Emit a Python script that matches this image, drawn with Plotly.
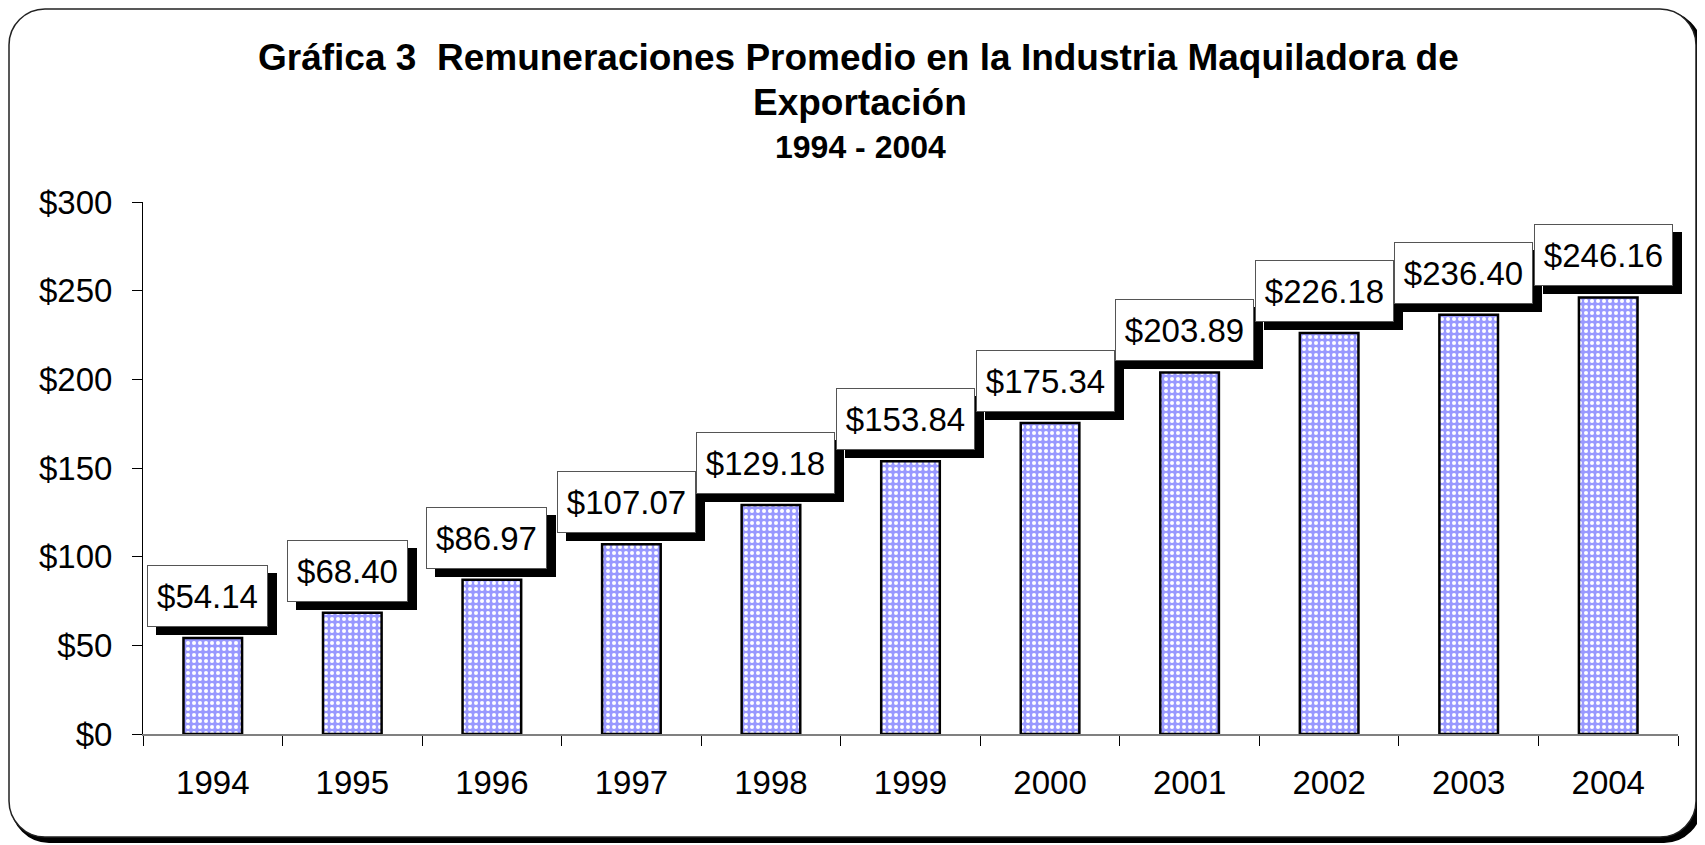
import plotly.graph_objects as go

years = ["1994", "1995", "1996", "1997", "1998", "1999", "2000", "2001", "2002", "2003", "2004"]
values = [54.14, 68.40, 86.97, 107.07, 129.18, 153.84, 175.34, 203.89, 226.18, 236.40, 246.16]
labels = ["$54.14", "$68.40", "$86.97", "$107.07", "$129.18", "$153.84", "$175.34",
          "$203.89", "$226.18", "$236.40", "$246.16"]
ytick_vals = [0, 50, 100, 150, 200, 250, 300]
ytick_text = ["$0", "$50", "$100", "$150", "$200", "$250", "$300"]
title_line1 = "Gráfica 3\u00a0\u00a0Remuneraciones Promedio en la Industria Maquiladora de"
title_line2 = "Exportación"
title_line3 = "1994 - 2004"

W, H = 1705, 845
OFF = 8  # page body margin offset
# target plot area on screen: x 143..1678, y 202..734
SX0, SX1, SY0, SY1 = 143, 1678, 202, 734
L, T = SX0 - OFF, SY0 - OFF
R, B = W - (SX1 - OFF), H - (SY1 - OFF)
PW, PH = SX1 - SX0, SY1 - SY0
FONT = "Liberation Sans, Arial, sans-serif"
LABEL_SIZE = 33


def fx(sx):
    return (sx - SX0) / PW


def fy(sy):
    return (SY1 - sy) / PH


def text_width(s, size):
    # Arial / Liberation Sans advance widths
    w = 0.0
    for ch in s:
        w += 0.278 if ch == "." else 0.556
    return round(w * size) + 2


def rounded_path(x0, y0, x1, y1, r):
    k = 0.55 * r
    pts = [
        f"M {fx(x0 + r)} {fy(y0)}",
        f"L {fx(x1 - r)} {fy(y0)}",
        f"C {fx(x1 - r + k)} {fy(y0)} {fx(x1)} {fy(y0 + r - k)} {fx(x1)} {fy(y0 + r)}",
        f"L {fx(x1)} {fy(y1 - r)}",
        f"C {fx(x1)} {fy(y1 - r + k)} {fx(x1 - r + k)} {fy(y1)} {fx(x1 - r)} {fy(y1)}",
        f"L {fx(x0 + r)} {fy(y1)}",
        f"C {fx(x0 + r - k)} {fy(y1)} {fx(x0)} {fy(y1 - r + k)} {fx(x0)} {fy(y1 - r)}",
        f"L {fx(x0)} {fy(y0 + r)}",
        f"C {fx(x0)} {fy(y0 + r - k)} {fx(x0 + r - k)} {fy(y0)} {fx(x0 + r)} {fy(y0)}",
        "Z",
    ]
    return " ".join(pts)


fig = go.Figure()
fig.add_trace(go.Bar(
    x=years, y=values,
    width=0.42,
    marker=dict(
        color="#9999FF",
        line=dict(color="black", width=2.5),
        pattern=dict(shape=".", fgcolor="white", bgcolor="#9999FF", size=6, solidity=0.35,
                     fillmode="replace"),
    ),
    hoverinfo="skip",
))

annotations = []
for i, (v, lab) in enumerate(zip(values, labels)):
    tw = text_width(lab, LABEL_SIZE)
    # shadow box (no text)
    annotations.append(dict(
        x=i, y=v, xref="x", yref="y", text="\u00a0", showarrow=False,
        xanchor="center", yanchor="bottom", xshift=4, yshift=3, height=44, width=tw,
        font=dict(family=FONT, size=LABEL_SIZE, color="black"),
        bgcolor="black", bordercolor="black", borderwidth=1, borderpad=8,
    ))
    annotations.append(dict(
        x=i, y=v, xref="x", yref="y", text=lab, showarrow=False,
        xanchor="center", yanchor="bottom", xshift=-5, yshift=11, height=44, width=tw,
        font=dict(family=FONT, size=LABEL_SIZE, color="black"),
        bgcolor="white", bordercolor="#555555", borderwidth=1, borderpad=8,
    ))

annotations += [
    dict(x=fx(858), y=fy(57), xref="paper", yref="paper", text=f"<b>{title_line1}</b>",
         showarrow=False, xanchor="center", yanchor="middle",
         font=dict(family=FONT, size=37, color="black")),
    dict(x=fx(860), y=fy(103), xref="paper", yref="paper", text=f"<b>{title_line2}</b>",
         showarrow=False, xanchor="center", yanchor="middle",
         font=dict(family=FONT, size=37, color="black")),
    dict(x=fx(860), y=fy(147), xref="paper", yref="paper", text=f"<b>{title_line3}</b>",
         showarrow=False, xanchor="center", yanchor="middle",
         font=dict(family=FONT, size=32, color="black")),
]

shapes = [
    dict(type="path", xref="paper", yref="paper", layer="below",
         path=rounded_path(13, 13, 1700, 841, 36),
         line=dict(color="black", width=4), fillcolor="black"),
    dict(type="path", xref="paper", yref="paper", layer="below",
         path=rounded_path(9, 9, 1696, 837, 36),
         line=dict(color="#222222", width=1.5), fillcolor="white"),
]

fig.update_layout(
    width=W, height=H,
    margin=dict(l=L, r=R, t=T, b=B, pad=0, autoexpand=False),
    paper_bgcolor="white",
    plot_bgcolor="rgba(0,0,0,0)",
    showlegend=False,
    annotations=annotations,
    shapes=shapes,
    font=dict(family=FONT, size=33, color="black"),
    bargap=0.58,
)
fig.update_xaxes(
    type="category", range=[-0.5, 10.5], autorange=False,
    showline=True, linecolor="#808080", linewidth=1.5,
    ticks="outside", ticklen=10, tickcolor="black", tickwidth=1,
    tickson="boundaries", tickangle=0,
    ticklabelstandoff=19,
    tickfont=dict(family=FONT, size=33, color="black"),
    showgrid=False, zeroline=False, fixedrange=True, automargin=False,
)
fig.update_yaxes(
    range=[0, 300], autorange=False,
    tickvals=ytick_vals, ticktext=ytick_text,
    showline=True, linecolor="black", linewidth=1,
    ticks="outside", ticklen=10, tickcolor="black", tickwidth=1,
    ticklabelstandoff=13,
    tickfont=dict(family=FONT, size=33, color="black"),
    showgrid=False, zeroline=False, fixedrange=True, automargin=False,
)

fig.write_html("out.html")
